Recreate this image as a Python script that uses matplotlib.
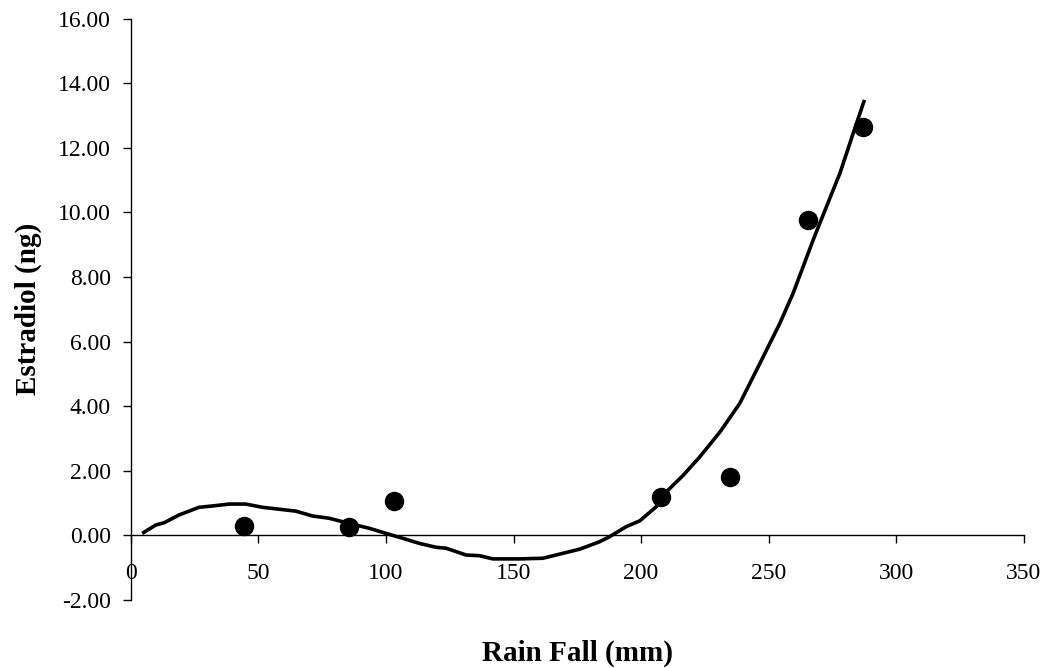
#!/usr/bin/env python3
"""Estradiol against rainfall, with a polynomial trend line."""

import matplotlib

matplotlib.use("Agg")
import matplotlib.pyplot as plt
from matplotlib.ticker import FormatStrFormatter

# Measured values
rain_fall = [44.5, 85.6, 103.3, 208.0, 234.8, 265.5, 287.1]
estradiol = [0.28, 0.26, 1.05, 1.19, 1.79, 9.77, 12.66]

# Trend line
trend_x = [4.4, 9.7, 13.0, 18.8, 26.7, 31.9, 38.5, 45.0, 51.5, 58.1, 64.7,
           71.2, 77.7, 85.6, 93.4, 100.0, 106.5, 113.1, 119.6, 123.6, 131.4,
           136.6, 141.9, 152.3, 161.5, 175.9, 183.7, 187.7, 194.2, 199.5,
           206.0, 208.0, 216.5, 223.0, 231.0, 238.7, 246.6, 254.4, 259.6,
           267.5, 272.7, 278.0, 283.2, 287.6]
trend_y = [0.05, 0.31, 0.38, 0.62, 0.86, 0.90, 0.96, 0.96, 0.86, 0.80, 0.74,
           0.59, 0.52, 0.36, 0.21, 0.05, -0.10, -0.26, -0.38, -0.41, -0.62,
           -0.64, -0.74, -0.74, -0.72, -0.44, -0.21, -0.05, 0.26, 0.44,
           0.88, 1.19, 1.85, 2.42, 3.20, 4.08, 5.32, 6.56, 7.49,
           9.15, 10.18, 11.22, 12.46, 13.49]

x_ticks = [0, 50, 100, 150, 200, 250, 300, 350]
y_ticks = [-2, 0, 2, 4, 6, 8, 10, 12, 14, 16]


def main() -> None:
    plt.rcParams["font.family"] = ["Liberation Serif", "DejaVu Serif"]
    plt.rcParams["axes.unicode_minus"] = False

    fig = plt.figure(figsize=(10.52, 6.68), dpi=100)
    ax = fig.add_axes([0.1245, 0.1025, 0.8485, 0.8691])

    ax.plot(trend_x, trend_y, color="black", linewidth=2.6,
            solid_joinstyle="round", solid_capstyle="butt", zorder=3)
    ax.plot(rain_fall, estradiol, linestyle="none", marker="o",
            markersize=13, color="black", zorder=4)

    ax.set_xlim(0, 350)
    ax.set_ylim(-2, 16)
    ax.set_xticks(x_ticks)
    ax.set_yticks(y_ticks)
    ax.yaxis.set_major_formatter(FormatStrFormatter("%.2f"))

    for side in ("top", "right"):
        ax.spines[side].set_visible(False)
    ax.spines["left"].set_position(("data", 0))
    ax.spines["bottom"].set_position(("data", 0))
    for side in ("left", "bottom"):
        ax.spines[side].set_linewidth(1.0)
        ax.spines[side].set_color("black")

    ax.tick_params(axis="y", direction="out", length=6, width=1.0,
                   pad=8.5, labelsize=17)
    ax.tick_params(axis="x", direction="out", length=6, width=1.0,
                   pad=14, labelsize=17)

    ax.set_xlabel("Rain Fall (mm)", fontsize=21, fontweight="bold",
                  labelpad=0)
    ax.xaxis.set_label_coords(0.5, -0.069)
    ax.set_ylabel("Estradiol (ng)", fontsize=21, fontweight="bold")
    ax.yaxis.set_label_coords(-0.10, 0.5)

    fig.savefig("out.png", dpi=100)
    plt.close(fig)


if __name__ == "__main__":
    main()
